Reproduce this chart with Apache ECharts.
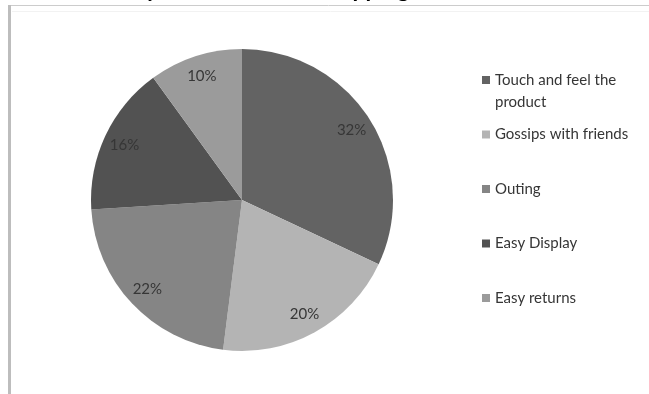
<!DOCTYPE html>
<html>
<head>
<meta charset="utf-8">
<script src="https://cdn.jsdelivr.net/npm/echarts@6/dist/echarts.min.js"></script>
<style>
  html, body { margin: 0; padding: 0; background: #ffffff; }
  #chart { width: 649px; height: 394px; }
</style>
</head>
<body>
<div id="chart"></div>
<script>
// Reasons given for shopping in stores (share of respondents)
const titleText = 'Why customers like shopping';
const categories = ['Touch and feel the product', 'Gossips with friends', 'Outing', 'Easy Display', 'Easy returns'];
const shares = [32, 20, 22, 16, 10];
const sliceColors = ['#636363', '#b4b4b4', '#858585', '#525252', '#9b9b9b'];

const FONT = 'Lato';
const TEXT = '#363636';
const LINE_H = 22;

// wrap long legend names onto several lines
function wrap(name, maxChars) {
  const words = name.split(' ');
  const lines = [];
  let cur = '';
  words.forEach(w => {
    const next = cur ? cur + ' ' + w : w;
    if (next.length > maxChars && cur) { lines.push(cur); cur = w; }
    else cur = next;
  });
  if (cur) lines.push(cur);
  return lines;
}

const pieCenter = [242, 200];
const pieR = 151;

// one legend block per category; leading blank lines keep the icon level
// with the first text line (legend text is centred on its icon)
const legendFirstY = 80;
const legendStep = 54.5;
const legends = categories.map((name, i) => {
  const lines = wrap(name, 20);
  const boxH = LINE_H * (2 * lines.length - 1);
  return {
    orient: 'vertical',
    left: 482,
    top: legendFirstY + legendStep * i - boxH / 2,
    padding: 0,
    itemWidth: 8,
    itemHeight: 8,
    icon: 'rect',
    selectedMode: false,
    data: [name],
    formatter: n => {
      const ls = wrap(n, 20);
      return '\n'.repeat(ls.length - 1) + ls.join('\n');
    },
    textStyle: {
      fontFamily: FONT,
      fontSize: 15,
      color: TEXT,
      lineHeight: LINE_H
    }
  };
});

const pieData = categories.map((name, i) => ({
  name: name,
  value: shares[i],
  itemStyle: { color: sliceColors[i] }
}));

const chart = echarts.init(document.getElementById('chart'), null, { renderer: 'canvas' });
chart.setOption({
  backgroundColor: '#ffffff',
  animation: false,
  title: {
    text: titleText,
    left: 109,
    top: -24,
    padding: 0,
    textStyle: { fontFamily: FONT, fontSize: 23, fontWeight: 'bold', color: '#000000', lineHeight: 28 }
  },
  legend: legends,
  graphic: [
    { type: 'line', shape: { x1: 8, y1: 5.5, x2: 649, y2: 5.5 }, style: { stroke: '#cccccc', lineWidth: 1 }, z: 100 },
    { type: 'line', shape: { x1: 12, y1: 11.5, x2: 649, y2: 11.5 }, style: { stroke: '#f2f2f2', lineWidth: 1 }, z: 100 },
    { type: 'line', shape: { x1: 9.5, y1: 5, x2: 9.5, y2: 394 }, style: { stroke: '#bdbdbd', lineWidth: 3 }, z: 100 }
  ],
  series: [
    {
      type: 'pie',
      center: pieCenter,
      radius: [0, pieR],
      startAngle: 90,
      clockwise: true,
      silent: true,
      label: { show: false },
      labelLine: { show: false },
      itemStyle: { borderWidth: 0 },
      data: pieData
    },
    {
      // transparent ring that carries the percentage labels near the rim
      type: 'pie',
      center: pieCenter,
      radius: [pieR * 0.68, pieR],
      startAngle: 90,
      clockwise: true,
      silent: true,
      legendHoverLink: false,
      itemStyle: { color: 'rgba(0,0,0,0)', borderWidth: 0 },
      label: {
        show: true,
        position: 'inside',
        formatter: p => p.value + '%',
        fontFamily: FONT,
        fontSize: 15,
        color: TEXT
      },
      labelLine: { show: false },
      data: categories.map((name, i) => ({ name: name, value: shares[i] }))
    }
  ]
});
</script>
</body>
</html>
